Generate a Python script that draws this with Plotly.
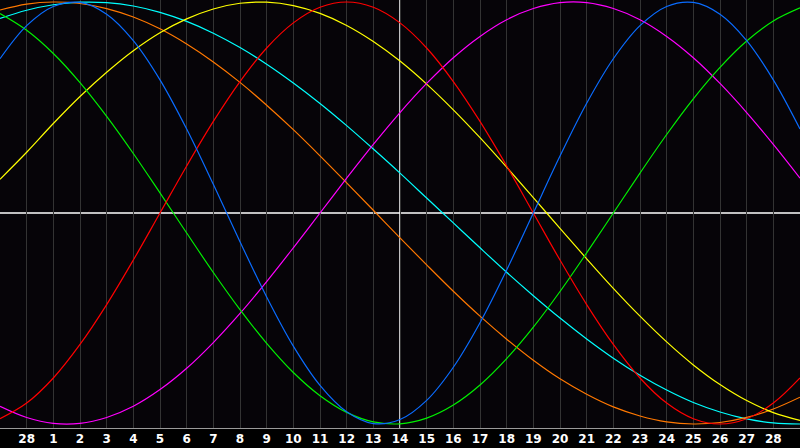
import plotly.graph_objects as go

# Day positions (grid index across the chart, 0..30)
day_pos = list(range(31))

# Tick positions and labels (previous month's 28th, then days 1..28)
tick_pos = list(range(1, 30))
tick_labels = ["28"] + [str(d) for d in range(1, 29)]

# Series values at each day position
physical = [0.731, 0.888, 0.979, 0.998, 0.942, 0.817, 0.631, 0.398, 0.136, -0.136,
            -0.398, -0.631, -0.817, -0.942, -0.998, -0.979, -0.888, -0.731, -0.520, -0.270,
            0.0, 0.270, 0.520, 0.731, 0.888, 0.979, 0.998, 0.942, 0.817, 0.631, 0.398]
emotional = [-0.975, -0.901, -0.782, -0.623, -0.434, -0.223, 0.0, 0.223, 0.434, 0.623,
             0.782, 0.901, 0.975, 1.0, 0.975, 0.901, 0.782, 0.623, 0.434, 0.223,
             0.0, -0.223, -0.434, -0.623, -0.782, -0.901, -0.975, -1.0, -0.975, -0.901, -0.782]
intellectual = [0.945, 0.866, 0.756, 0.618, 0.458, 0.282, 0.095, -0.095, -0.282, -0.458,
                -0.618, -0.756, -0.866, -0.945, -0.990, -0.999, -0.972, -0.910, -0.815, -0.690,
                -0.541, -0.372, -0.189, 0.0, 0.189, 0.372, 0.541, 0.690, 0.815, 0.910, 0.972]
intuitive = [-0.916, -0.969, -0.997, -0.997, -0.969, -0.916, -0.837, -0.736, -0.614, -0.476,
             -0.325, -0.165, 0.0, 0.165, 0.325, 0.476, 0.614, 0.736, 0.837, 0.916,
             0.969, 0.997, 0.997, 0.969, 0.916, 0.837, 0.736, 0.614, 0.476, 0.325, 0.165]
aesthetic = [0.16, 0.288, 0.424, 0.552, 0.667, 0.769, 0.854, 0.920, 0.967, 0.994,
             0.999, 0.983, 0.946, 0.889, 0.813, 0.720, 0.611, 0.489, 0.357, 0.217,
             0.073, -0.073, -0.217, -0.357, -0.489, -0.611, -0.720, -0.813, -0.889, -0.946, -0.983]
awareness = [0.962, 0.990, 1.000, 0.993, 0.969, 0.929, 0.873, 0.801, 0.716, 0.619,
             0.511, 0.395, 0.271, 0.143, 0.013, -0.118, -0.246, -0.371, -0.489, -0.598,
             -0.698, -0.786, -0.859, -0.919, -0.962, -0.990, -1.000, -0.993, -0.969, -0.929, -0.873]
spiritual = [0.922, 0.961, 0.987, 0.999, 0.997, 0.981, 0.951, 0.908, 0.852, 0.784,
             0.705, 0.616, 0.519, 0.414, 0.303, 0.189, 0.071, -0.047, -0.165, -0.281,
             -0.392, -0.498, -0.597, -0.688, -0.769, -0.839, -0.898, -0.943, -0.976, -0.995, -1.000]

today_pos = 15

series = [
    ("Spiritual", spiritual, "#00ffff"),
    ("Awareness", awareness, "#ff7800"),
    ("Aesthetic", aesthetic, "#ffff00"),
    ("Intuitive", intuitive, "#ff00ff"),
    ("Intellectual", intellectual, "#00f000"),
    ("Emotional", emotional, "#ff0000"),
    ("Physical", physical, "#0a6cff"),
]

fig = go.Figure()
for name, vals, col in series:
    fig.add_trace(go.Scatter(x=day_pos, y=vals, mode="lines", name=name,
                             line=dict(color=col, width=1.2, shape="spline"),
                             hoverinfo="skip"))

fig.add_shape(type="line", xref="x", yref="paper", x0=today_pos, x1=today_pos, y0=0, y1=1,
              line=dict(color="#ffffff", width=1.5), layer="between")
fig.add_shape(type="line", xref="paper", yref="y", x0=0, x1=1, y0=0, y1=0,
              line=dict(color="#ffffff", width=1.5), layer="between")

fig.update_layout(
    width=800, height=448,
    margin=dict(l=0, r=0, t=0, b=20, pad=0),
    paper_bgcolor="#000000",
    plot_bgcolor="#060408",
    showlegend=False,
    xaxis=dict(range=[0, 30], tickmode="array", tickvals=tick_pos, ticktext=tick_labels,
               showgrid=True, gridcolor="#333333", gridwidth=1, zeroline=False,
               showline=True, linecolor="#9a9a9a", linewidth=1, mirror=True,
               ticks="", ticklen=0,
               tickfont=dict(family="DejaVu Sans", size=12, color="#ffffff", weight="bold")),
    yaxis=dict(range=[-1.019, 1.0095], showgrid=False, zeroline=False, showticklabels=False,
               showline=True, linecolor="#9a9a9a", linewidth=1, mirror=True, ticks=""),
)

fig.write_html("out.html", config={"displayModeBar": False, "staticPlot": True},
               post_script="document.body.style.margin='0';document.body.style.background='#000';")
